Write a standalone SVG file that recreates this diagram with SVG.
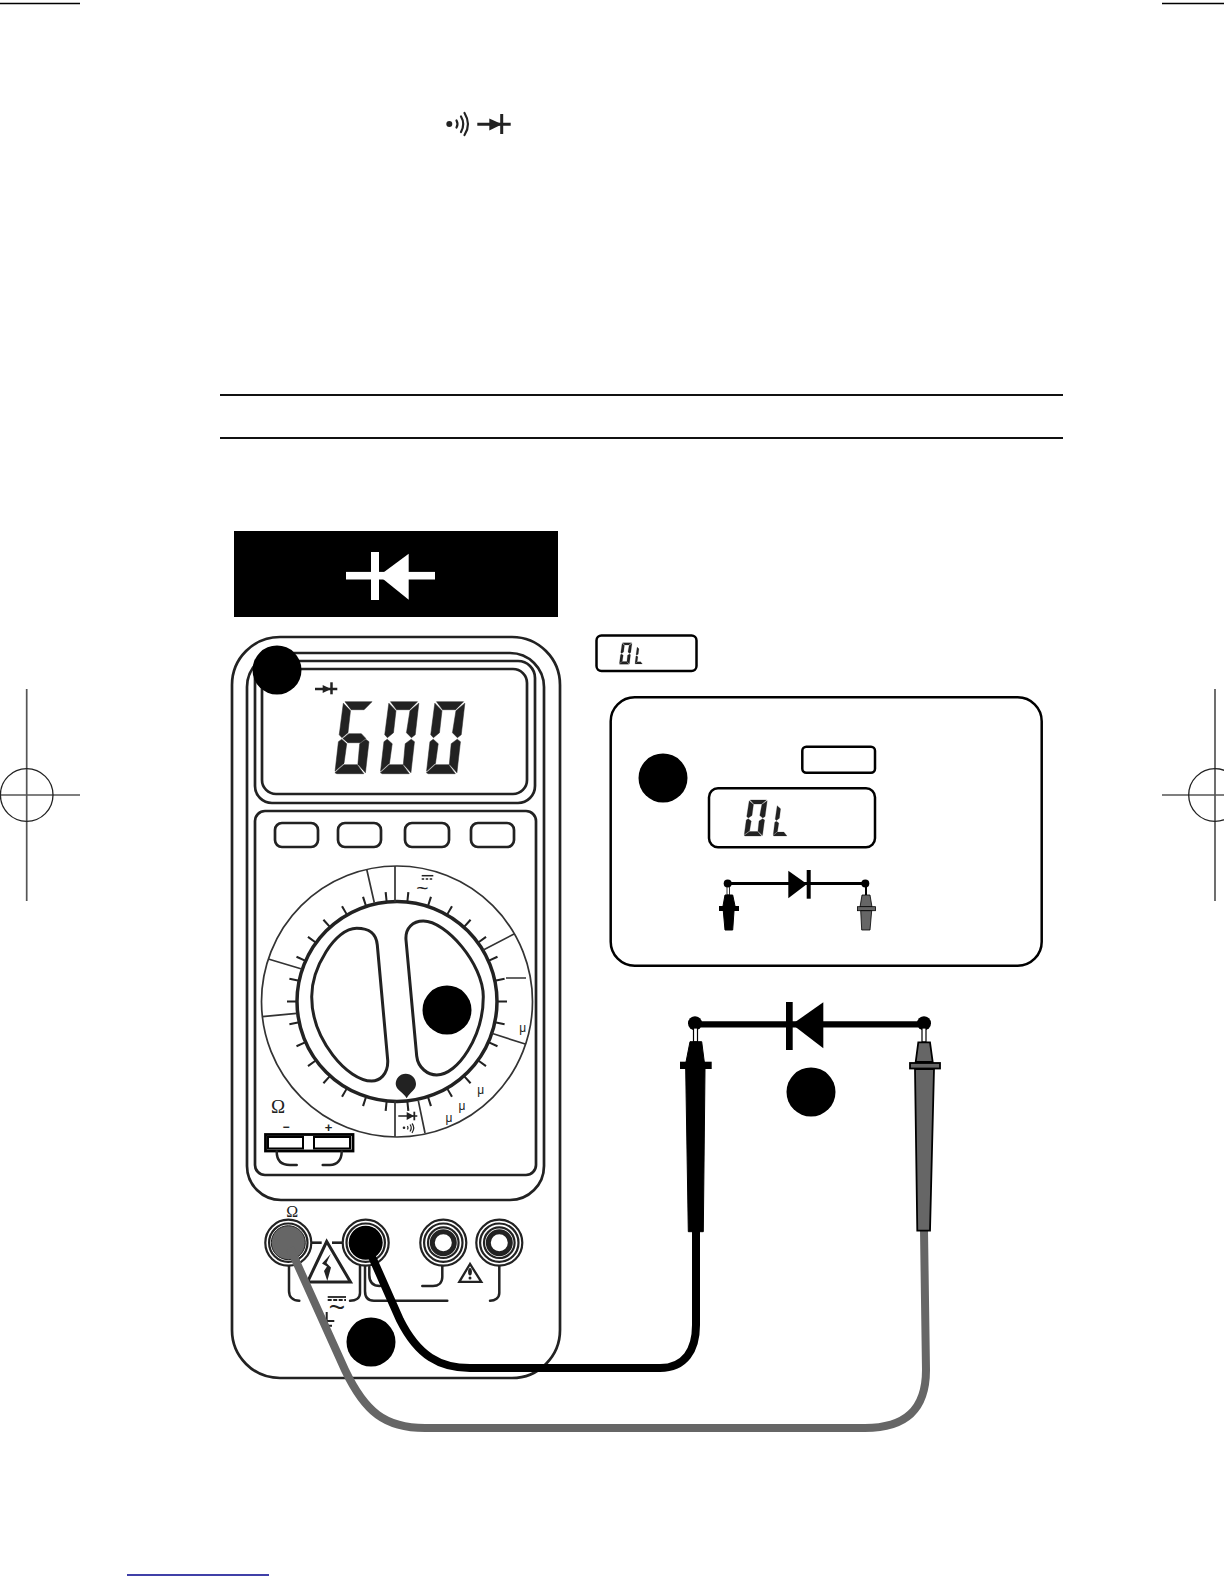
<svg xmlns="http://www.w3.org/2000/svg" xmlns:xlink="http://www.w3.org/1999/xlink" width="1224" height="1584" viewBox="0 0 1224 1584">
<style>
.o{fill:none;stroke:#222;stroke-width:2.700}
.k{fill:none;stroke:#000;stroke-width:2.500}
.t{fill:none;stroke:#333;stroke-width:1.700}
.w{fill:none;stroke:#222;stroke-width:2.500;stroke-linecap:round}
.callout{fill:#000}
.seg{fill:#222;stroke:#222;stroke-width:0.500;stroke-linejoin:round}
.crop{stroke:#555;stroke-width:1.700;fill:none}
.gray{fill:#666;stroke:#000;stroke-width:1.800}
.blk{fill:#000;stroke:#000;stroke-width:1}
.ring{fill:#fff;stroke:#222;stroke-width:2.200}
text{font-family:"Liberation Sans",Arial,sans-serif;fill:#222;text-anchor:middle}
.s{font-family:"Liberation Serif","Times New Roman",serif}
</style>
<defs>
<g id="a"><polygon class="seg" points="2,0 29,0 22,8 9,8"/></g>
<g id="b"><polygon class="seg" points="30.500,1.500 30.500,33 27,36 21.500,31 22.500,9"/></g>
<g id="c"><polygon class="seg" points="27,37.500 30.500,40 30.500,71 22,62.500 21.500,42"/></g>
<g id="d"><polygon class="seg" points="0,71 8,63 21.500,63 29,72 2,72"/></g>
<g id="e"><polygon class="seg" points="0,40 3,37.500 8.500,42 8,61.500 0,69.500"/></g>
<g id="f"><polygon class="seg" points="0.500,1.500 8.500,9 8.500,31 3,36 0,33"/></g>
<g id="gs"><polygon class="seg" points="9.500,32 22,32 27,36.700 22,41 9.500,41 4,36.700"/></g>
<g id="zero" transform="skewX(-6.500)"><use href="#a"/><use href="#b"/><use href="#c"/><use href="#d"/><use href="#e"/><use href="#f"/></g>
<g id="six" transform="skewX(-6.500)"><use href="#a"/><use href="#c"/><use href="#d"/><use href="#e"/><use href="#f"/><use href="#gs"/></g>
<g id="ell" transform="skewX(-6.500)"><use href="#d"/><use href="#e"/><use href="#f"/></g>
<g id="jackring"><circle r="23" class="ring"/><circle r="19.200" class="ring"/><circle r="15.300" class="ring"/></g>
</defs>

<g id="crop-marks">
<line x1="0" y1="3.500" x2="80" y2="3.500" stroke="#000" stroke-width="1.400"/>
<line x1="1162" y1="3.500" x2="1224" y2="3.500" stroke="#000" stroke-width="1.400"/>
<line class="crop" x1="26.700" y1="689" x2="26.700" y2="901"/>
<line class="crop" x1="0" y1="795" x2="80" y2="795"/>
<circle cx="26.700" cy="795" r="26.300" fill="none" stroke="#222" stroke-width="1.300"/>
<line class="crop" x1="1215" y1="689" x2="1215" y2="901"/>
<line class="crop" x1="1162" y1="795" x2="1224" y2="795"/>
<circle cx="1215" cy="795" r="26.300" fill="none" stroke="#222" stroke-width="1.300"/>
<line x1="127" y1="1575" x2="269" y2="1575" stroke="#00008b" stroke-width="1.300"/>
</g>

<g id="header-symbol">
<circle cx="449.300" cy="124" r="3" fill="#222"/>
<path d="M456.500,120.500 Q458.500,124 456.500,127.500 M461,116.500 Q465.500,124 461,132 M464.500,113 Q471.500,124.500 464.500,135" fill="none" stroke="#222" stroke-width="2.200" stroke-linecap="round"/>
<line x1="477.300" y1="124.300" x2="510.700" y2="124.300" stroke="#222" stroke-width="3"/>
<polygon points="489.300,118.500 489.300,130.500 502,124.300" fill="#222"/>
<line x1="501.700" y1="114" x2="501.700" y2="134" stroke="#222" stroke-width="3"/>
</g>

<g id="rules">
<line x1="220" y1="395" x2="1063" y2="395" stroke="#111" stroke-width="2"/>
<line x1="220" y1="438" x2="1063" y2="438" stroke="#111" stroke-width="2"/>
</g>

<g id="banner">
<rect x="234" y="531" width="324" height="86" fill="#000"/>
<rect x="346" y="571.900" width="89" height="7.600" fill="#fff"/>
<rect x="371" y="552" width="8" height="48" fill="#fff"/>
<polygon points="379,575.700 408.700,553.700 408.700,599.700" fill="#fff"/>
</g>

<g id="meter">
<rect class="o" x="232" y="637" width="328" height="741" rx="48"/>
<rect class="o" x="247" y="653" width="297" height="547" rx="34"/>
<g id="display">
<rect class="o" x="255" y="661" width="280" height="142" rx="17"/>
<rect class="o" x="262" y="669" width="265" height="125" rx="14"/>
<line x1="315" y1="689" x2="337.300" y2="689" stroke="#222" stroke-width="2.500"/>
<polygon points="322.700,685 322.700,693 331,689" fill="#222"/>
<line x1="331.500" y1="682.300" x2="331.500" y2="694.300" stroke="#222" stroke-width="2.500"/>
<use href="#six" transform="translate(343,701.700)"/>
<use href="#zero" transform="translate(388.500,701.700)"/>
<use href="#zero" transform="translate(434.500,701.700)"/>
</g>
<g id="panel">
<rect class="o" x="255" y="811" width="281" height="364" rx="10"/>
<rect class="o" x="275" y="823" width="43" height="24" rx="7"/>
<rect class="o" x="338" y="823" width="43" height="24" rx="7"/>
<rect class="o" x="405" y="823" width="44" height="24" rx="7"/>
<rect class="o" x="471" y="823" width="43" height="24" rx="7"/>
</g>
<g id="dial">
<circle class="t" cx="397" cy="1001.500" r="135.500"/>
<circle cx="397" cy="1001.500" r="100" fill="none" stroke="#222" stroke-width="3.500"/>
<circle cx="397" cy="1001.500" r="105" fill="none" stroke="#222" stroke-width="10" pathLength="360" stroke-dasharray="1.100 10.900" stroke-dashoffset="0.550"/>
<path class="t" d="M366.700,869.300 L374.300,902.700 M395,866 L395,902 M514,934 L483.300,950 M268.300,959 L301.700,969 M262.300,1016.700 L296.700,1013.300 M491.700,1033.300 L526,1044.300 M395,1100.700 L395,1136.700 M418.300,1100.700 L425,1133 M506,978 L526,978"/>
<text x="522.700" y="1032" font-size="12">μ</text>
<text x="480.700" y="1094" font-size="12">μ</text>
<text x="462" y="1110" font-size="12">μ</text>
<text x="449" y="1122" font-size="12">μ</text>
<line x1="421.700" y1="875.700" x2="433.300" y2="875.700" stroke="#222" stroke-width="1.500"/>
<line x1="421.700" y1="879" x2="433.300" y2="879" stroke="#222" stroke-width="1.500" stroke-dasharray="2.500 1.500"/>
<text x="422.500" y="895" font-size="21">~</text>
<path d="M356.700,928.300 C368,928.300 376,932 377.300,945 L387.700,1060 C388.500,1075 379,1081 371.700,1081 C348,1081 311.700,1040 311.700,996.700 C311.700,968 335,928.300 356.700,928.300 Z" fill="none" stroke="#222" stroke-width="3"/>
<path d="M423.300,921 C413,921 405,928 406,940 L416.700,1056 C418,1068 428,1075 436.700,1075 C458,1075 483.300,1036 483.300,996.700 C483.300,964 446,921 423.300,921 Z" fill="none" stroke="#222" stroke-width="3"/>
<path d="M406.700,1098.300 C403,1092 396,1090 395.700,1084 C395.700,1078 400,1073.700 405.700,1073.700 C411.500,1073.700 416,1078 416,1084 C416,1090 410,1092 406.700,1098.300 Z" fill="#222"/>
<line x1="398.300" y1="1116" x2="417.300" y2="1116" stroke="#222" stroke-width="1.500"/>
<polygon points="406.700,1112 406.700,1120 414,1116" fill="#222"/>
<line x1="414.300" y1="1111.700" x2="414.300" y2="1120.300" stroke="#222" stroke-width="1.800"/>
<circle cx="404" cy="1127.700" r="1.300" fill="#222"/>
<path d="M407.500,1126 Q408.500,1127.700 407.500,1129.500 M410,1124.500 Q412.500,1127.700 410,1131.500 M412,1123.500 Q415.500,1127.700 412,1133" fill="none" stroke="#222" stroke-width="1.200"/>
</g>
<g id="range-switch">
<text class="s" x="278" y="1113" font-size="19">Ω</text>
<text x="286" y="1131" font-size="12" font-weight="bold">−</text>
<text x="328.500" y="1132" font-size="13" font-weight="bold">+</text>
<rect x="265.500" y="1134.500" width="87.500" height="16.500" fill="none" stroke="#000" stroke-width="2.800"/>
<rect x="268" y="1137" width="35" height="11.500" fill="#fff" stroke="#000" stroke-width="2"/>
<rect x="314" y="1137" width="36" height="11.500" fill="#fff" stroke="#000" stroke-width="2"/>
<path class="w" d="M276.700,1151.500 C276.700,1160 281,1165 290,1165 L296.700,1165 M341.700,1151.500 C341.700,1160 337,1165 330,1165 L322.700,1165"/>
</g>
<g id="jacks">
<path class="w" d="M289,1266 L289,1291 C289,1297 293,1300.700 299.300,1300.700 M360,1266 L360,1293 C360,1298 356,1300.700 350,1300.700 M365,1266 L365,1291 C365,1297 368,1300.700 374,1300.700 L447.300,1300.700 M369.300,1267 L369.300,1275 C369.300,1282 373,1286 380,1286 M442.300,1266 L442.300,1277 C442.300,1283 438,1286 433,1286 L422.300,1286 M499.300,1266 L499.300,1293 C499.300,1298 495,1300.700 490,1300.700"/>
<line x1="311.700" y1="1242.700" x2="321.700" y2="1242.700" stroke="#222" stroke-width="2.600"/>
<line x1="332" y1="1242.700" x2="342" y2="1242.700" stroke="#222" stroke-width="2.600"/>
<polygon points="326.700,1241.500 307.500,1282 350.500,1282" fill="#fff" stroke="#222" stroke-width="3"/>
<polygon points="330.700,1254 322,1263.500 327,1266.500 324,1271 327.300,1281 331,1267.500 326.500,1263" fill="#222"/>
<polygon points="470,1264 459.300,1281.800 481.300,1281.800" fill="#fff" stroke="#222" stroke-width="2.300"/>
<ellipse cx="470" cy="1271.700" rx="1.900" ry="3.800" fill="#222"/>
<circle cx="470" cy="1278" r="1.500" fill="#222"/>
<use href="#jackring" transform="translate(288.300,1242.700)"/>
<circle cx="288.300" cy="1242.700" r="17" fill="#666" stroke="#222" stroke-width="1"/>
<use href="#jackring" transform="translate(365.700,1242.700)"/>
<circle cx="365.700" cy="1242.700" r="17" fill="#000"/>
<use href="#jackring" transform="translate(443.300,1242.700)"/>
<circle cx="443.300" cy="1242.700" r="11" fill="#fff" stroke="#222" stroke-width="5"/>
<use href="#jackring" transform="translate(499.300,1242.700)"/>
<circle cx="499.300" cy="1242.700" r="11" fill="#fff" stroke="#222" stroke-width="5"/>
<text class="s" x="292.300" y="1217" font-size="16">Ω</text>
<line x1="327.700" y1="1297" x2="346" y2="1297" stroke="#222" stroke-width="1.800"/>
<line x1="327.700" y1="1300" x2="346" y2="1300" stroke="#222" stroke-width="1.800" stroke-dasharray="4 1.500"/>
<text x="337" y="1317" font-size="28">~</text>
<path d="M326.700,1312 L326.700,1327 M326.700,1321 L334.300,1321 M326.700,1325.700 L332,1325.700" fill="none" stroke="#222" stroke-width="2"/>
</g>
</g>

<g id="reading-note">
<rect class="k" x="596.500" y="635.500" width="100" height="35.500" rx="5"/>
<use href="#zero" transform="translate(622,642.700) scale(0.33,0.3)"/>
<use href="#ell" transform="translate(637,646.700) scale(0.26,0.24)"/>
</g>

<g id="inset">
<rect class="k" x="610.700" y="697.300" width="431" height="268.400" rx="24"/>
<rect class="k" x="802.300" y="746.700" width="72.700" height="26" rx="4"/>
<rect class="k" x="709" y="788.300" width="166" height="59" rx="9"/>
<use href="#zero" transform="translate(749,800) scale(0.6,0.5)"/>
<use href="#ell" transform="translate(777,805) scale(0.48,0.43)"/>
<g id="inset-circuit">
<line x1="727.700" y1="883.500" x2="865.300" y2="883.500" stroke="#000" stroke-width="3.200"/>
<circle cx="727.700" cy="883.500" r="4" fill="#000"/>
<circle cx="865.300" cy="883.500" r="4" fill="#000"/>
<polygon points="788.300,870.700 788.300,898.300 807,884" fill="#000"/>
<rect x="806.700" y="870" width="4" height="28.700" fill="#000"/>
<rect x="727" y="887" width="2.600" height="8" fill="#fff" stroke="#000" stroke-width="0.800"/>
<polygon class="blk" points="725,895 732.700,895 735,906 723,906"/>
<rect x="719" y="906" width="20" height="5" fill="#000"/>
<polygon class="blk" points="723.300,911 734,911 732.700,930 725,930"/>
<line x1="866" y1="887" x2="866" y2="895" stroke="#000" stroke-width="2"/>
<polygon class="gray" points="862,895 870,895 872,907 860,907" style="stroke-width:0.800"/>
<rect x="857.500" y="906.700" width="18" height="4" class="gray" style="stroke-width:0.800"/>
<polygon class="gray" points="860.700,910.700 871.700,910.700 870,930 861.700,930" style="stroke-width:0.800"/>
</g>
</g>

<g id="connectors">
<path id="lead-gray" d="M290,1248 L345,1370 C365,1412 385,1428 425,1428 L865,1428 C905,1428 926,1410 926,1370 L924,1230" fill="none" stroke="#666" stroke-width="8"/>
<path id="lead-black" d="M369,1250 L400,1320 C418,1356 440,1368 470,1368 L660,1368 C685,1368 696,1350 696,1325 L696,1230" fill="none" stroke="#000" stroke-width="8"/>
</g>

<g id="circuit">
<line x1="695" y1="1024.300" x2="924" y2="1024.300" stroke="#000" stroke-width="6.300"/>
<rect x="786" y="1002" width="6.700" height="48" fill="#000"/>
<polygon points="792,1024.300 823.300,1002.300 823.300,1048.300" fill="#000"/>
<circle cx="695" cy="1023.300" r="7" fill="#000"/>
<circle cx="924" cy="1023.300" r="7" fill="#000"/>
</g>

<g id="probe-black">
<rect x="693.500" y="1028" width="4" height="14" fill="#fff" stroke="#000" stroke-width="1.200"/>
<polygon class="blk" points="690,1041.700 701.700,1041.700 704.300,1062 686,1062"/>
<rect x="680" y="1061.700" width="31.700" height="7.300" fill="#000"/>
<polygon class="blk" points="685.700,1069 705,1069 703.300,1231.700 688.300,1231.700"/>
</g>
<g id="probe-gray">
<rect x="922" y="1028" width="4" height="14" fill="#fff" stroke="#000" stroke-width="1.200"/>
<polygon class="gray" points="918.300,1042.300 930,1042.300 932.700,1062 915.700,1062"/>
<rect class="gray" x="910" y="1063" width="30" height="5.500"/>
<polygon class="gray" points="915,1069 934,1069 930,1230.700 917.300,1230.700"/>
</g>

<g id="callout-1"><circle class="callout" cx="277" cy="670" r="24.500"/></g>
<g id="callout-2"><circle class="callout" cx="447" cy="1010" r="24.500"/></g>
<g id="callout-3"><circle class="callout" cx="371" cy="1342" r="24.500"/></g>
<g id="callout-4"><circle class="callout" cx="663" cy="778" r="24.500"/></g>
<g id="callout-5"><circle class="callout" cx="811" cy="1092" r="24.500"/></g>
</svg>
